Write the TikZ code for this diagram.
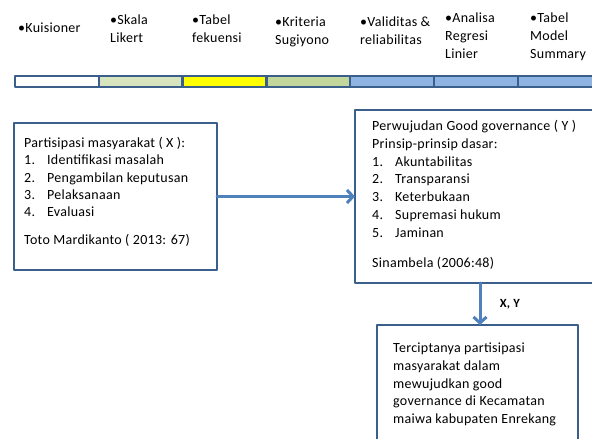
\documentclass[tikz,border=0pt]{standalone}
\usepackage{fontspec}
\setmainfont{Carlito}[LetterSpace=2]
\usetikzlibrary{positioning,arrows.meta}
\definecolor{garisbox}{HTML}{3A5F8B}
\definecolor{biruarrow}{HTML}{4F81BD}
\definecolor{hijaumuda}{HTML}{D7E4BD}
\definecolor{kuning}{HTML}{FFFF00}
\definecolor{hijau}{HTML}{C3D69B}
\definecolor{birumuda}{HTML}{8EB4E3}
\tikzset{
  sel/.style={draw=garisbox,line width=2.4pt,minimum width=84pt,minimum height=11pt,inner sep=0pt,outer sep=0pt,anchor=north west},
  judul/.style={anchor=north west,align=left,inner sep=0pt,font=\fontsize{14}{18}\selectfont},
  kotak/.style={draw=garisbox,line width=2.6pt,inner sep=0pt,outer sep=0pt,anchor=north west},
  isi/.style={anchor=north west,align=left,inner sep=0pt},
  panah/.style={draw=biruarrow,line width=3pt,-{Straight Barb[length=6pt,width=13pt,line width=3pt]}}
}
\newcommand{\butir}[1]{\makebox[23pt][l]{#1}}
\begin{document}
\begin{tikzpicture}[line cap=round,line join=round,x=1pt,y=-1pt]
\useasboundingbox (0,0) rectangle (592,439);
		% bar
		\foreach \warna [count=\i] in {white,hijaumuda,kuning,hijau,birumuda,birumuda,birumuda,birumuda}
		  \node[sel,fill=\warna] (bar\i) at ({15+83.8*(\i-1)},76) {};
		% judul di atas bar
		\node[judul] (kuisioner) at (18,23) {•Kuisioner};
		\node[judul] (likert) at (110,15) {•Skala\\Likert};
		\node[judul] (frekuensi) at (192,15) {•Tabel\\fekuensi};
		\node[judul] (sugiyono) at (275,17) {•Kriteria\\Sugiyono};
		\node[judul] (validitas) at (360,17) {•Validitas \&\\reliabilitas};
		\node[judul] (regresi) at (445,13) {•Analisa\\Regresi\\Linier};
		\node[judul] (summary) at (530,13) {•Tabel\\Model\\Summary};
		% kotak X
		\node[kotak,minimum width=203pt,minimum height=147pt] (boxX) at (14,123) {};
		\node[isi,font=\fontsize{14}{17.3}\selectfont] (teksX) at ([xshift=10pt,yshift=-14pt]boxX.north west)
		  {Partisipasi masyarakat ( X ):\\
		   \butir{1.}Identifikasi masalah\\
		   \butir{2.}Pengambilan keputusan\\
		   \butir{3.}Pelaksanaan\\
		   \butir{4.}Evaluasi\\[10.7pt]
		   Toto Mardikanto ( 2013: 67)};
		% kotak Y
		\node[kotak,minimum width=250pt,minimum height=173pt] (boxY) at (355,110) {};
		\node[isi,font=\fontsize{14}{17.8}\selectfont] (teksY) at ([xshift=17pt,yshift=-10pt]boxY.north west)
		  {Perwujudan Good governance ( Y )\\
		   Prinsip-prinsip dasar:\\
		   \butir{1.}Akuntabilitas\\
		   \butir{2.}Transparansi\\
		   \butir{3.}Keterbukaan\\
		   \butir{4.}Supremasi hukum\\
		   \butir{5.}Jaminan\\[12.2pt]
		   Sinambela (2006:48)};
		% kotak hasil
		\node[kotak,minimum width=201pt,minimum height=140pt] (boxZ) at (377,325) {};
		\node[isi,font=\fontsize{14}{17.7}\selectfont] (teksZ) at ([xshift=16pt,yshift=-18pt]boxZ.north west)
		  {Terciptanya partisipasi\\
		   masyarakat dalam\\
		   mewujudkan good\\
		   governance di Kecamatan\\
		   maiwa kabupaten Enrekang};
		% panah
		\draw[panah] (boxX.east) -- (boxY.west);
		\draw[panah] (boxY.south) -- node[right=15pt,font=\fontsize{12.5}{14}\selectfont\bfseries] (lblXY) {X, Y} (boxY.south |- boxZ.north);
		\end{tikzpicture}
\end{document}
